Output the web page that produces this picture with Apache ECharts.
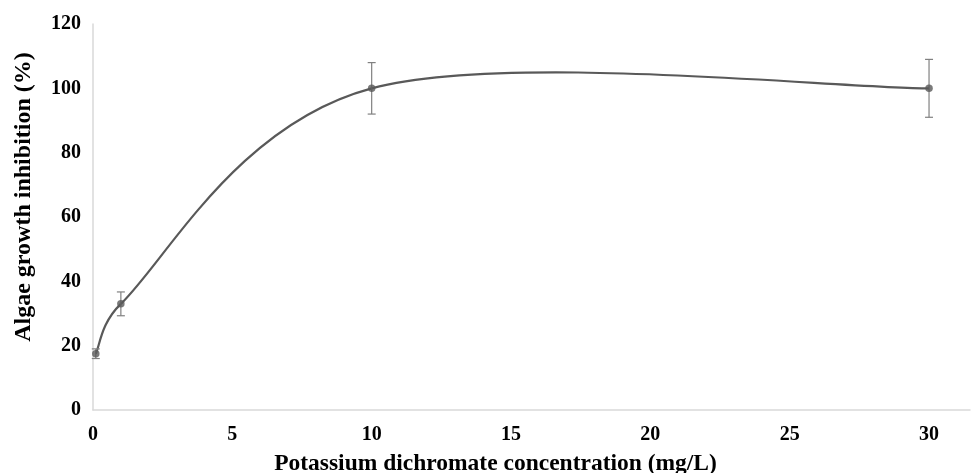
<!DOCTYPE html>
<html>
<head>
<meta charset="utf-8">
<script src="https://cdn.jsdelivr.net/npm/echarts@6/dist/echarts.min.js"></script>
<style>html,body{margin:0;padding:0;background:#fff;}#chart{width:973px;height:473px;}</style>
</head>
<body>
<div id="chart"></div>
<script>
const concentrations = [0.1, 1, 10, 30];
const inhibition = [17.5, 33, 100, 100];
const errors = [1.5, 3.7, 8, 9];
const xTitle = 'Potassium dichromate concentration (mg/L)';
const yTitle = 'Algae growth inhibition (%)';

const n = concentrations.length;
const pointData = concentrations.map((x, i) => [x, inhibition[i]]);
const errData = concentrations.map((x, i) => [x, inhibition[i] - errors[i], inhibition[i] + errors[i]]);

const FONT = "'Liberation Serif', 'Times New Roman', serif";

function dist(a, b) { return Math.hypot(a[0] - b[0], a[1] - b[1]); }

// Excel-like smoothed segment between point i-1 and i
function renderSegment(params, api) {
  const i = params.dataIndex;
  if (i === 0) return null;
  const pt = (k) => { const j = Math.max(0, Math.min(n - 1, k)); return api.coord([concentrations[j], inhibition[j]]); };
  const P0 = pt(i - 2), P1 = pt(i - 1), P2 = pt(i), P3 = pt(i + 1);
  const d12 = dist(P1, P2), d02 = dist(P0, P2), d13 = dist(P1, P3);
  const f0 = (d02 / 6 < d12 / 2 || d02 === 0) ? 1 / 6 : d12 / (2 * d02);
  const f3 = (d13 / 6 < d12 / 2 || d13 === 0) ? 1 / 6 : d12 / (2 * d13);
  return {
    type: 'bezierCurve',
    shape: {
      x1: P1[0], y1: P1[1], x2: P2[0], y2: P2[1],
      cpx1: P1[0] + (P2[0] - P0[0]) * f0, cpy1: P1[1] + (P2[1] - P0[1]) * f0,
      cpx2: P2[0] - (P3[0] - P1[0]) * f3, cpy2: P2[1] - (P3[1] - P1[1]) * f3
    },
    style: { stroke: '#595959', lineWidth: 2.2, fill: null }
  };
}

function renderErr(params, api) {
  const x = api.value(0);
  const lo = api.coord([x, api.value(1)]);
  const hi = api.coord([x, api.value(2)]);
  const w = 4;
  const st = { stroke: '#808080', lineWidth: 1.2 };
  return {
    type: 'group',
    children: [
      { type: 'line', shape: { x1: lo[0], y1: lo[1], x2: hi[0], y2: hi[1] }, style: st },
      { type: 'line', shape: { x1: lo[0] - w, y1: lo[1], x2: lo[0] + w, y2: lo[1] }, style: st },
      { type: 'line', shape: { x1: hi[0] - w, y1: hi[1], x2: hi[0] + w, y2: hi[1] }, style: st }
    ]
  };
}

const chart = echarts.init(document.getElementById('chart'));
chart.setOption({
  animation: false,
  backgroundColor: '#ffffff',
  grid: { left: 93, right: 3, top: 24, bottom: 63, containLabel: false, outerBoundsMode: 'none' },
  xAxis: {
    type: 'value', min: 0, max: 31.47, interval: 5,
    name: xTitle, nameLocation: 'middle', nameGap: 42,
    nameTextStyle: { fontFamily: FONT, fontWeight: 'bold', fontSize: 23.5, color: '#000', padding: [0, 72, 0, 0] },
    axisLine: { show: true, lineStyle: { color: '#d9d9d9', width: 1.5 } },
    axisTick: { show: false },
    splitLine: { show: false },
    axisLabel: { showMaxLabel: false, margin: 15, fontFamily: FONT, fontWeight: 'bold', fontSize: 20, color: '#000' }
  },
  yAxis: {
    type: 'value', min: 0, max: 120, interval: 20,
    name: yTitle, nameLocation: 'middle', nameGap: 57, nameRotate: 90,
    nameTextStyle: { fontFamily: FONT, fontWeight: 'bold', fontSize: 24, color: '#000', padding: [0, 0, 0, 40] },
    axisLine: { show: true, lineStyle: { color: '#d9d9d9', width: 1.5 } },
    axisTick: { show: false },
    splitLine: { show: false },
    axisLabel: { margin: 12, fontFamily: FONT, fontWeight: 'bold', fontSize: 20, color: '#000' }
  },
  series: [
    { type: 'custom', data: pointData, renderItem: renderSegment, clip: false, z: 2 },
    { type: 'custom', data: errData, renderItem: renderErr, clip: false, z: 3 },
    { type: 'scatter', data: pointData, symbol: 'circle', symbolSize: 7.5,
      itemStyle: { color: '#595959' }, z: 4 }
  ]
});
</script>
</body>
</html>
